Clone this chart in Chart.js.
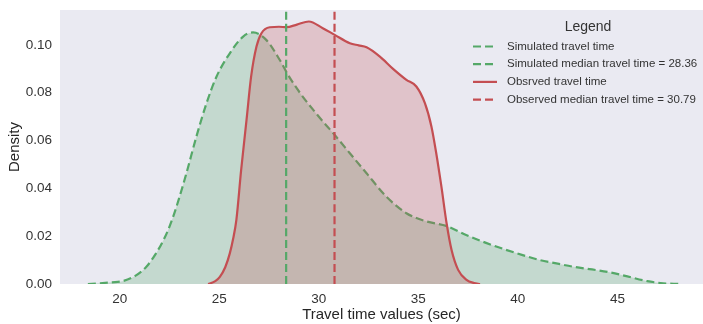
<!DOCTYPE html>
<html>
<head>
<meta charset="utf-8">
<script src="https://cdn.jsdelivr.net/npm/chart.js@4"></script>
<style>
  html, body { margin: 0; padding: 0; background: #fff; }
  #wrap { width: 703px; height: 324px; }
</style>
</head>
<body>
<div id="wrap"><canvas id="chart" width="703" height="324"></canvas></div>
<script>
// Simulated travel time KDE
const simX = [18.4, 19.0, 19.6, 20.15, 20.8, 21.34, 21.8, 22.2, 22.5, 22.85, 23.35, 23.85, 24.36, 24.86, 25.53, 26.2, 26.7, 27.37, 28.04, 28.46, 29.05, 29.88, 30.8, 31.56, 32.4, 33.4, 34.4, 35.4, 36.4, 37.4, 38.4, 39.4, 40.2, 41.1, 42.0, 42.8, 43.6, 44.5, 45.5, 46.5, 47.3, 48.1];
const simY = [0, 0.0003, 0.0007, 0.0012, 0.0035, 0.0072, 0.0125, 0.0184, 0.024, 0.0323, 0.0463, 0.0616, 0.0756, 0.0867, 0.0965, 0.1035, 0.1052, 0.102, 0.0937, 0.0874, 0.080, 0.0712, 0.0623, 0.0547, 0.0463, 0.0365, 0.0296, 0.0262, 0.0243, 0.0205, 0.0172, 0.0143, 0.0122, 0.0100, 0.0085, 0.0072, 0.0062, 0.0051, 0.0032, 0.0012, 0.0003, 0];

// Observed travel time KDE
const obsX = [24.44, 24.8, 25.03, 25.3, 25.53, 25.7, 25.86, 26.1, 26.37, 26.6, 26.87, 27.12, 27.54, 28.0, 28.38, 28.9, 29.5, 30.2, 30.8, 31.56, 32.0, 32.4, 33.07, 33.73, 34.4, 34.9, 35.33, 35.66, 35.9, 36.16, 36.42, 36.67, 37.0, 37.42, 37.8, 38.1];
const obsY = [0, 0.0012, 0.003, 0.007, 0.0128, 0.019, 0.0268, 0.0477, 0.0686, 0.0867, 0.0993, 0.1049, 0.1074, 0.1076, 0.1074, 0.1085, 0.1098, 0.107, 0.1042, 0.1007, 0.0998, 0.099, 0.0951, 0.090, 0.0854, 0.0826, 0.0756, 0.0658, 0.0547, 0.0407, 0.0254, 0.0142, 0.0059, 0.0017, 0.0004, 0];

const simMedian = 28.36;
const obsMedian = 30.79;

const labels = [
    'Simulated travel time',
    'Simulated median travel time = 28.36',
    'Obsrved travel time',
    'Observed median travel time = 30.79'
];

const xMin = 17, xMax = 49.3;
const yMin = 0, yMax = 0.1146;
const xTicks = [20, 25, 30, 35, 40, 45];
const yTicks = [0, 0.02, 0.04, 0.06, 0.08, 0.10];

const GREEN = '#55A868';
const RED = '#C44E52';
const FONT = '"Liberation Sans", Arial, sans-serif';

const toPoints = (xs, ys) => xs.map((x, i) => ({ x: x, y: ys[i] }));

const plotBg = {
    id: 'plotBg',
    beforeDraw(chart) {
        const { ctx, chartArea: a } = chart;
        ctx.save();
        ctx.fillStyle = '#EAEAF2';
        ctx.fillRect(a.left, a.top, a.right - a.left, a.bottom - a.top);
        ctx.restore();
    }
};

// matplotlib-style legend in the upper right corner
const boxLegend = {
    id: 'boxLegend',
    afterDraw(chart) {
        const ctx = chart.ctx;
        const ds = chart.data.datasets;
        ctx.save();
        ctx.fillStyle = '#333';
        ctx.textBaseline = 'middle';
        ctx.textAlign = 'center';
        ctx.font = '14px ' + FONT;
        ctx.fillText('Legend', 588, 27);
        ctx.font = '11.5px ' + FONT;
        ctx.textAlign = 'left';
        ds.forEach((d, i) => {
            const y = 46.5 + i * 17.7;
            ctx.strokeStyle = d.borderColor;
            ctx.lineWidth = 2.2;
            ctx.setLineDash(d.borderDash || []);
            ctx.beginPath();
            ctx.moveTo(473, y);
            ctx.lineTo(497, y);
            ctx.stroke();
            ctx.fillText(d.label, 507, y);
        });
        ctx.restore();
    }
};

new Chart(document.getElementById('chart'), {
    type: 'line',
    data: {
        datasets: [
            {
                label: labels[0],
                data: toPoints(simX, simY),
                borderColor: GREEN,
                backgroundColor: 'rgba(85,168,104,0.25)',
                borderDash: [8, 4],
                borderWidth: 2.2,
                fill: 'origin',
                order: 3
            },
            {
                label: labels[1],
                data: [{ x: simMedian, y: yMin }, { x: simMedian, y: yMax }],
                borderColor: GREEN,
                borderDash: [8, 4],
                borderWidth: 2.2,
                fill: false,
                tension: 0,
                order: 0
            },
            {
                label: labels[2],
                data: toPoints(obsX, obsY),
                borderColor: RED,
                backgroundColor: 'rgba(196,78,82,0.25)',
                borderWidth: 2.2,
                fill: 'origin',
                order: 2
            },
            {
                label: labels[3],
                data: [{ x: obsMedian, y: yMin }, { x: obsMedian, y: yMax }],
                borderColor: RED,
                borderDash: [8, 4],
                borderWidth: 2.2,
                fill: false,
                tension: 0,
                order: 0
            }
        ]
    },
    options: {
        responsive: false,
        animation: false,
        devicePixelRatio: 1,
        layout: { padding: { top: 10, right: 0, bottom: 0, left: 0 } },
        elements: {
            point: { radius: 0 },
            line: { tension: 0.4, cubicInterpolationMode: 'monotone' }
        },
        plugins: {
            legend: { display: false },
            tooltip: { enabled: false }
        },
        scales: {
            x: {
                type: 'linear',
                min: xMin,
                max: xMax,
                afterFit: (s) => { s.height = 40; s.paddingLeft = 0; s.paddingRight = 0; },
                afterBuildTicks: (s) => { s.ticks = xTicks.map(v => ({ value: v })); },
                grid: { display: false, drawTicks: false },
                border: { display: false },
                ticks: {
                    padding: 7,
                    color: '#333',
                    font: { family: FONT, size: 13.5 }
                },
                title: {
                    display: true,
                    text: 'Travel time values (sec)',
                    color: '#262626',
                    font: { family: FONT, size: 15 },
                    padding: { top: 0, bottom: 0 }
                }
            },
            y: {
                min: yMin,
                max: yMax,
                afterFit: (s) => { s.width = 60; s.paddingTop = 0; s.paddingBottom = 0; },
                afterBuildTicks: (s) => { s.ticks = yTicks.map(v => ({ value: v })); },
                grid: { display: false, drawTicks: false },
                border: { display: false },
                ticks: {
                    padding: 8,
                    color: '#333',
                    font: { family: FONT, size: 13.5 },
                    callback: (v) => v.toFixed(2)
                },
                title: {
                    display: true,
                    text: 'Density',
                    color: '#262626',
                    font: { family: FONT, size: 15 },
                    padding: { top: 6, bottom: 0 }
                }
            }
        }
    },
    plugins: [plotBg, boxLegend]
});
</script>
</body>
</html>
